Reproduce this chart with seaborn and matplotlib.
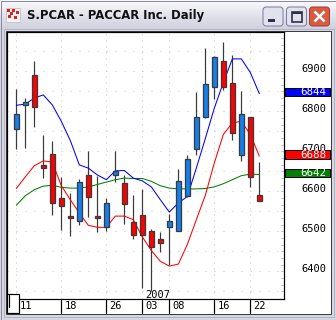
import numpy as np
import pandas as pd
import matplotlib
matplotlib.use("Agg")
import matplotlib.pyplot as plt
import seaborn as sns
from matplotlib.patches import Rectangle, FancyBboxPatch
from matplotlib.colors import LinearSegmentedColormap

# ---------------- data ----------------
title = "S.PCAR - PACCAR Inc. Daily"
tick_index = [0, 5, 10, 14, 17, 22, 26]
tick_labels = ["11", "18", "26", "03", "08", "16", "22"]
year_label = "2007"
year_index = 14
price_ticks = [6400, 6500, 6600, 6700, 6800, 6900]

open_ = [6756, 6815, 6891, 6666, 6693, 6584, 6539, 6525, 6640, 6538, 6510, 6641, 6620, 6523,
         6542, 6500, 6481, 6512, 6502, 6588, 6706, 6787, 6862, 6925, 6872, 6690, 6785, 6590]
high = [6856, 6833, 6926, 6742, 6726, 6636, 6596, 6632, 6701, 6638, 6583, 6701, 6640, 6590,
        6607, 6505, 6498, 6543, 6656, 6692, 6848, 6958, 6938, 6973, 6941, 6850, 6785, 6673]
low = [6707, 6708, 6761, 6633, 6542, 6503, 6488, 6515, 6536, 6499, 6502, 6623, 6519, 6482,
       6358, 6352, 6449, 6415, 6502, 6586, 6690, 6784, 6831, 6854, 6729, 6675, 6610, 6575]
close = [6793, 6823, 6812, 6659, 6572, 6564, 6533, 6623, 6586, 6533, 6570, 6650, 6569, 6491,
         6492, 6462, 6472, 6525, 6625, 6681, 6786, 6868, 6936, 6862, 6747, 6793, 6635, 6575]

ma_blue = [6815, 6818, 6833, 6841, 6816, 6775, 6727, 6666, 6658, 6641, 6629, 6651, 6652, 6633,
           6626, 6611, 6579, 6548, 6571, 6587, 6658, 6732, 6808, 6872, 6931, 6931, 6897, 6844]
ma_red = [6607, 6636, 6664, 6676, 6673, 6614, 6579, 6546, 6515, 6510, 6510, 6538, 6538, 6529,
          6486, 6452, 6425, 6413, 6418, 6467, 6529, 6590, 6671, 6742, 6771, 6775, 6742, 6688]
ma_green = [6565, 6589, 6604, 6613, 6615, 6610, 6608, 6608, 6611, 6617, 6623, 6629, 6633, 6632,
            6632, 6625, 6614, 6608, 6606, 6606, 6606, 6607, 6611, 6619, 6629, 6639, 6643, 6642]

df = pd.DataFrame({"i": np.arange(len(open_)), "open": open_, "high": high, "low": low,
                   "close": close, "blue": ma_blue, "red": ma_red, "green": ma_green})

# ---------------- figure ----------------
sns.set_theme(style="white")
plt.rcParams['font.family'] = ['DejaVu Sans']

W, H = 336, 320
fig = plt.figure(figsize=(W / 100, H / 100), dpi=100)
fig.patch.set_facecolor('#d6d6e0')
PX = 0.72  # one pixel in points


def fr(x0, y0, x1, y1):
    return [x0 / W, 1 - y1 / H, (x1 - x0) / W, (y1 - y0) / H]


# window chrome
bg = fig.add_axes([0, 0, 1, 1])
bg.axis('off')
cm = LinearSegmentedColormap.from_list('tb', ['#fbfbfd', '#ebebf1', '#dcdce6', '#d0d0dc'])
grad = np.linspace(0, 1, 60).reshape(-1, 1)
bg.imshow(grad, extent=[0, W, 30, 0], aspect='auto', cmap=cm, zorder=0)
bg.set_xlim(0, W)
bg.set_ylim(H, 0)
bg.add_patch(Rectangle((0.5, 0.5), W - 1, H - 1, fill=False, ec='#8a8aa2', lw=PX, zorder=2))
bg.add_patch(Rectangle((6, 31), 325, 283, fc='white', ec='#3c3c48', lw=PX, zorder=1))
bg.add_patch(Rectangle((3.5, 28.5), 330, 288, fill=False, ec='#b4b4c4', lw=PX, zorder=1))

# icon
bg.add_patch(Rectangle((6, 8), 14, 14, fc='#f4f4f4', ec='#c8c8c8', lw=PX, zorder=3))
for (ix, iy) in [(7, 9), (12, 9), (16, 11), (8, 15), (14, 16), (10, 12)]:
    bg.add_patch(Rectangle((ix, iy), 3, 3, fc='#e02020', ec='none', zorder=4))
bg.text(27, 15.5, title, fontsize=8.4, fontweight='bold', family=['DejaVu Sans'],
        ha='left', va='center', color='#101010', zorder=4)

# buttons
for x0, fc, ec in [(263, '#e2e2ee', '#7c7ca0'), (286.5, '#e2e2ee', '#7c7ca0'), (309.5, '#d85a42', '#a04030')]:
    bg.add_patch(FancyBboxPatch((x0, 7), 20, 19, boxstyle='round,pad=0,rounding_size=3',
                                fc=fc, ec=ec, lw=PX, zorder=3))
bg.add_patch(Rectangle((268, 19), 7, 2.5, fc='#30304a', ec='none', zorder=4))
bg.add_patch(Rectangle((291.5, 11.5), 10.5, 10.5, fill=False, ec='#30304a', lw=1.2, zorder=4))
bg.add_patch(Rectangle((291.5, 11.5), 10.5, 2, fc='#30304a', ec='none', zorder=4))
bg.plot([314.5, 324.5], [11.5, 21.5], color='white', lw=1.8, zorder=4, solid_capstyle='butt')
bg.plot([314.5, 324.5], [21.5, 11.5], color='white', lw=1.8, zorder=4, solid_capstyle='butt')

# ---------------- chart ----------------
ax = fig.add_axes(fr(7, 32, 284, 299))
ax.set_facecolor('white')
x_min, x_max = -1.033, 29.74
y_min, y_max = 6330.75, 6998.25
ax.set_xlim(x_min, x_max)
ax.set_ylim(y_min, y_max)

# dotted grid
for v in np.arange(6350, 7000, 50):
    ax.hlines(v, -1.0, x_max, colors='#c4c4c4', lw=PX, linestyles=(0, (1, 8)), zorder=1)
for t in tick_index:
    ax.vlines(t, y_min, y_max, colors='#c4c4c4', lw=PX, linestyles=(0, (1, 5)), zorder=1)

# moving-average lines
sns.lineplot(data=df, x='i', y='green', ax=ax, color='#008000', lw=0.75, zorder=2.5)
sns.lineplot(data=df, x='i', y='red', ax=ax, color='#ff0000', lw=0.75, zorder=2.5)
sns.lineplot(data=df, x='i', y='blue', ax=ax, color='#0000ff', lw=0.75, zorder=2.5)

# candles
up = df['close'] >= df['open']
ax.vlines(df['i'], df['low'], df['high'], colors='#3a3a3a', lw=PX * 1.2, zorder=2)
body_bottom = np.minimum(df['open'], df['close'])
body_h = np.abs(df['close'] - df['open'])
ax.bar(df['i'], body_h, bottom=body_bottom, width=0.52,
       color=np.where(up, '#1480f0', '#ff0000'), edgecolor='#3a3a3a', linewidth=PX * 1.3, zorder=3)

ax.set_xlabel('')
ax.set_ylabel('')
ax.set_xticks([])
ax.set_yticks([])
for s in ax.spines.values():
    s.set_color('black')
    s.set_linewidth(PX * 1.2)

# right-edge minor ticks
for v in np.arange(6350, 7000, 50 / 3):
    ax.plot([0.99, 0.998], [v, v], transform=ax.get_yaxis_transform(), color='#c8c8c8',
            lw=PX, clip_on=False, zorder=1)

# price labels
mono = ['DejaVu Sans Mono']
for v in price_ticks:
    ax.text(1.1516, v + 5, f"{v}", transform=ax.get_yaxis_transform(), ha='right', va='center',
            fontsize=7.5, family=mono, color='black', clip_on=False, zorder=1)

# value boxes
for col, fc in [('blue', '#0000ff'), ('red', '#ff0000'), ('green', '#008000')]:
    v = df[col].iloc[-1]
    ax.add_patch(Rectangle((1.0036, v + 4 - 10.5), 0.1625, 21, transform=ax.get_yaxis_transform(),
                           fc=fc, ec='black', lw=PX, clip_on=False, zorder=5))
    ax.text(1.1516, v + 4, f"{v}", transform=ax.get_yaxis_transform(), ha='right', va='center',
            fontsize=7.8, family=mono, color='white', clip_on=False, zorder=6)

# date strip
tr = ax.get_xaxis_transform()
strip = 14 / 267
for t, lab in zip(tick_index, tick_labels):
    ax.plot([t, t], [0, -strip], transform=tr, color='black', lw=PX * 1.2, clip_on=False)
    ax.text(t + 0.37, -strip / 2, lab, transform=tr, ha='left', va='center', fontsize=7.5,
            family=mono, color='black', clip_on=False)
ax.text(year_index + 0.38, 6342, year_label, ha='left', va='center', fontsize=7.5, family=mono,
        color='black', zorder=6)

# overlay (scroll box)
ov = fig.add_axes([0, 0, 1, 1], zorder=10)
ov.patch.set_alpha(0)
ov.axis('off')
ov.set_xlim(0, W)
ov.set_ylim(H, 0)
ov.add_patch(Rectangle((6.8, 293.5), 12.5, 19.5, fc='white', ec='black', lw=PX * 1.2))
ov.plot([8.8, 8.8], [295, 306.5], color='black', lw=PX * 1.2)

fig.savefig('out.png', dpi=100, facecolor=fig.get_facecolor())
